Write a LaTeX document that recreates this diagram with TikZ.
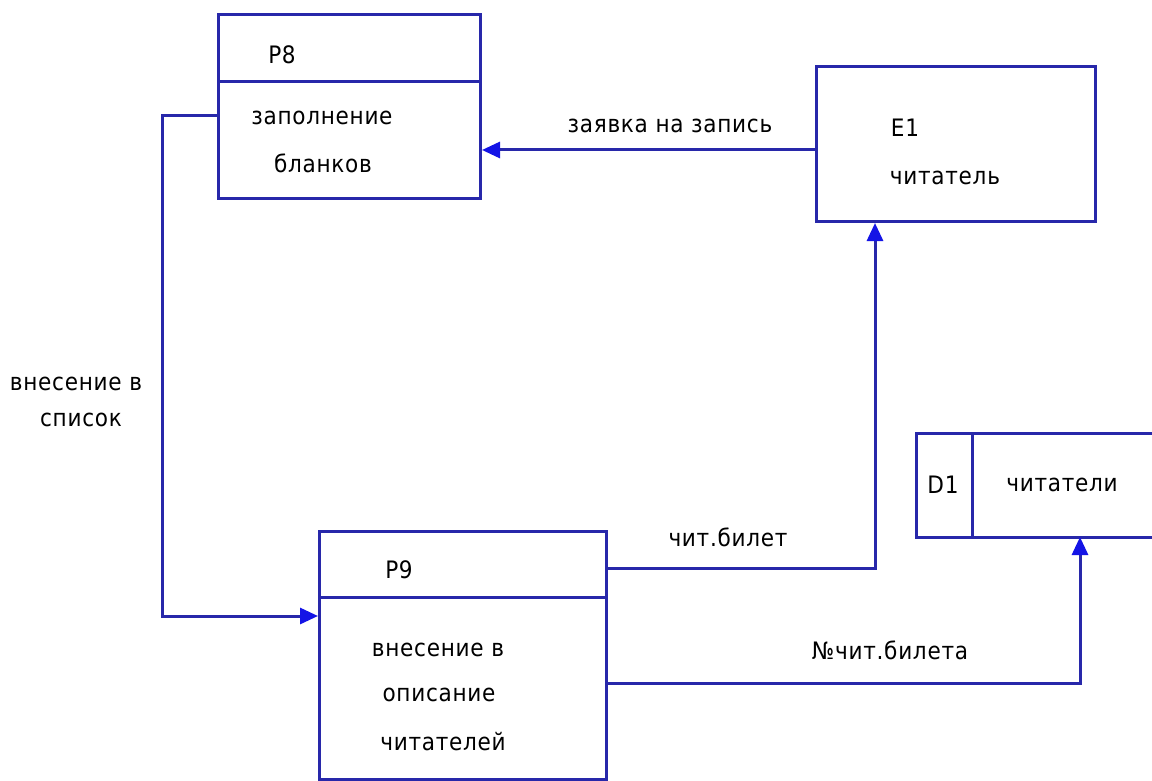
\documentclass[tikz,border=0pt]{standalone}
\usepackage{fontspec}
\setmainfont{DejaVu Sans Condensed}[LetterSpace=3]
\usetikzlibrary{arrows.meta}
\definecolor{lineblue}{RGB}{40,40,170}
\definecolor{tipblue}{RGB}{20,20,230}
\tikzset{
  box/.style={draw=lineblue, line width=3pt, anchor=north west, inner sep=0pt},
  edge/.style={draw=lineblue, line width=3pt},
  lbl/.style={inner sep=0pt, font=\fontsize{24}{27}\selectfont, text=black},
  flow/.style={draw=lineblue, line width=3pt,
    -{Triangle[length=18pt,width=16pt,color=tipblue]}},
}
\begin{document}
\begin{tikzpicture}[x=1pt,y=-1pt]
\useasboundingbox[fill=white] (0,0) rectangle (1152,781);
% P8
\node[box, minimum width=262pt, minimum height=184pt] (p8) at (217,13) {};
\draw[edge] (217,82) coordinate (p8l) -- (p8l -| p8.east);
\node[lbl] (p8id) at (282,55) {P8};
\node[lbl] (p8t1) at (322,118) {заполнение};
\node[lbl] (p8t2) at (323,163) {бланков};
% E1
\node[box, minimum width=279pt, minimum height=155pt] (e1) at (815,65) {};
\node[lbl] (e1id) at (905,128) {E1};
\node[lbl] (e1t) at (945,178) {читатель};
% P9
\node[box, minimum width=287pt, minimum height=248pt] (p9) at (318,530) {};
\draw[edge] (318,597) coordinate (p9l) -- (p9l -| p9.east);
\node[lbl] (p9id) at (399,570) {P9};
\node[lbl] (p9t1) at (438,650) {внесение в};
\node[lbl] (p9t2) at (439,695) {описание};
\node[lbl] (p9t3) at (443,742) {читателей};
% D1
\coordinate (d1nw) at (916,433);
\coordinate (d1sw) at (916,537);
\coordinate (d1ne) at (1152,433);
\coordinate (d1se) at (1152,537);
\coordinate (d1s) at (1080,537);
\draw[edge] (d1ne) -- (d1nw) -- (d1sw) -- (d1se);
\draw[edge] (972,433) -- (972,537);
\node[lbl] (d1id) at (943,485) {D1};
\node[lbl] (d1t) at (1062,485) {читатели};
% flows
\coordinate (bend1) at (162,116);
\coordinate (bend2) at (162,616);
\coordinate (bend3) at (875,568);
\coordinate (bend4) at (1080,683);
\draw[flow] (e1.west |- 0,150) -- (p8.east |- 0,150);
\draw[flow] (p8.west |- bend1) -- (bend1) -- (bend2) -- (p9.west |- bend2);
\draw[flow] (p9.east |- bend3) -- (bend3) -- (e1.south -| bend3);
\draw[flow] (p9.east |- bend4) -- (bend4) -- (d1s);
% labels
\node[lbl] (f1) at (670,126) {заявка на запись};
\node[lbl] (f2a) at (76,384) {внесение в};
\node[lbl] (f2b) at (81,420) {список};
\node[lbl] (f3) at (728,537) {чит.билет};
\node[lbl] (f4) at (890,650) {№чит.билета};
\end{tikzpicture}
\end{document}
